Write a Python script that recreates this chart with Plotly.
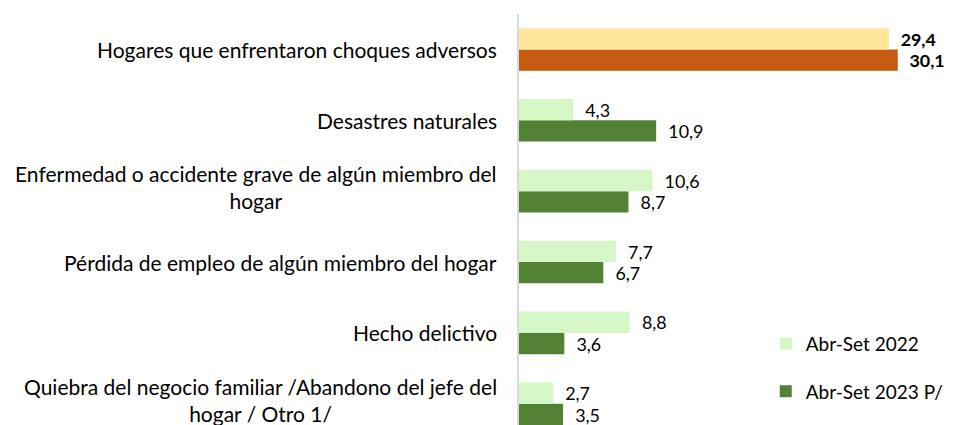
import plotly.graph_objects as go

# Categories listed bottom-to-top (display order on the y axis)
categories = [
    "Quiebra del negocio familiar /Abandono del jefe del<br>hogar / Otro 1/",
    "Hecho delictivo",
    "Pérdida de empleo de algún miembro del hogar",
    "Enfermedad o accidente grave de algún miembro del<br>hogar",
    "Desastres naturales",
    "Hogares que enfrentaron choques adversos",
]
values_2022 = [2.7, 8.8, 7.7, 10.6, 4.3, 29.4]
values_2023 = [3.5, 3.6, 6.7, 8.7, 10.9, 30.1]
series_names = ["Abr-Set 2022", "Abr-Set 2023 P/"]

colors_2022 = ["#D5F7C6"] * 5 + ["#FFE699"]
colors_2023 = ["#548235"] * 5 + ["#C55A11"]

FONT = "Lato"
FS = 21
NB = "\u00a0\u00a0"


def fmt(v, bold):
    s = NB + f"{v:.1f}".replace(".", ",")
    return f"<b>{s}</b>" if bold else s


text_2022 = [fmt(v, i == len(values_2022) - 1) for i, v in enumerate(values_2022)]
text_2023 = [fmt(v, i == len(values_2023) - 1) for i, v in enumerate(values_2023)]

fig = go.Figure()
fig.add_trace(go.Bar(
    y=categories, x=values_2023, orientation="h", name=series_names[1],
    marker=dict(color=colors_2023, line=dict(width=0)),
    text=text_2023, textposition="outside", cliponaxis=False,
    textfont=dict(family=FONT, size=FS, color="#000000"),
    legendgroup="b", legendrank=2,
))
fig.add_trace(go.Bar(
    y=categories, x=values_2022, orientation="h", name=series_names[0],
    marker=dict(color=colors_2022, line=dict(width=0)),
    text=text_2022, textposition="outside", cliponaxis=False,
    textfont=dict(family=FONT, size=FS, color="#000000"),
    legendgroup="a", legendrank=1,
))

for c in categories:
    fig.add_annotation(
        x=0, xref="paper", y=c, yref="y", text=c, showarrow=False,
        xanchor="right", yanchor="middle", align="center", xshift=-20,
        yshift=4 if "<br>" in c else 0,
        font=dict(family=FONT, size=FS, color="#000000"),
    )

fig.update_layout(
    width=947, height=417,
    margin=dict(l=510.5, r=0, t=5.5, b=0, autoexpand=False),
    paper_bgcolor="white", plot_bgcolor="white",
    barmode="group", bargap=0.4, bargroupgap=0,
    separators=",.",
    showlegend=True,
    legend=dict(
        x=0.566, xanchor="left", y=0.244, yanchor="top",
        traceorder="grouped", tracegroupgap=20,
        font=dict(family=FONT, size=19, color="#000000"),
        bgcolor="rgba(0,0,0,0)",
    ),
    xaxis=dict(range=[0, 34.65], showgrid=False, zeroline=False,
               showticklabels=False, showline=False, fixedrange=True),
    yaxis=dict(range=[-0.3, 5.5], showgrid=False, zeroline=False,
               showticklabels=False, showline=True, linecolor="#d9d9d9",
               linewidth=2, ticks="", fixedrange=True),
)

fig.write_html("out.html")
